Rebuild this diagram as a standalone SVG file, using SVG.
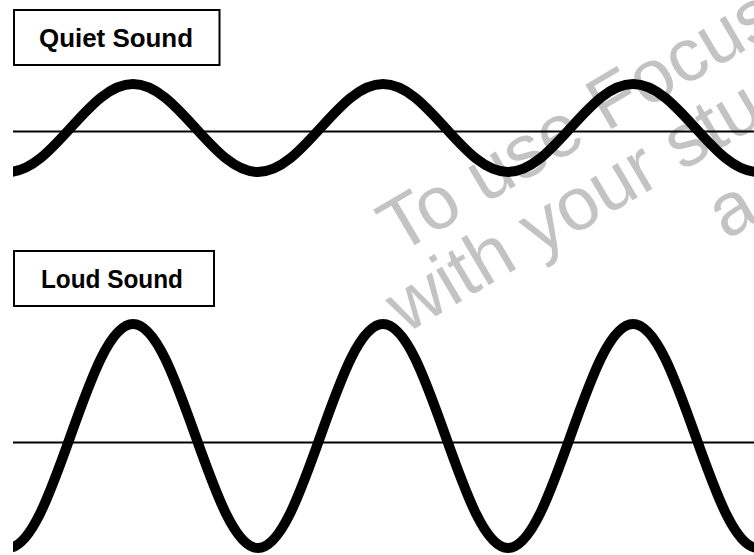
<svg xmlns="http://www.w3.org/2000/svg" width="754" height="555" viewBox="0 0 754 555">
  <style>
    .box { fill: #ffffff; stroke: #000000; stroke-width: 2; }
    .label { font-family: "Liberation Sans", Arial, sans-serif; font-weight: bold; font-size: 25.5px; fill: #000000; }
    .axis { stroke: #000000; stroke-width: 2.2; fill: none; }
    .wave { stroke: #000000; stroke-width: 10; fill: none; stroke-linecap: butt; }
    .wm { font-family: "Liberation Sans", Arial, sans-serif; font-size: 75px; fill: #c3c3c3; }
  </style>
  <defs>
    <clipPath id="clipArea">
      <rect x="13" y="0" width="741" height="555"/>
    </clipPath>
  </defs>
  <rect x="0" y="0" width="754" height="555" fill="#ffffff"/>

  <g id="watermark" transform="translate(398,255) rotate(-30.5)">
    <text class="wm" x="0" y="0">To use Focus</text>
    <text class="wm" x="-34" y="72">with your stu</text>
    <text class="wm" x="290" y="154">a</text>
  </g>

  <g id="axes">
    <line class="axis" x1="13" y1="131.5" x2="754" y2="131.5"/>
    <line class="axis" x1="13" y1="442.5" x2="754" y2="442.5"/>
  </g>

  <g id="quiet-wave" clip-path="url(#clipArea)">
    <path class="wave" d="M8,172 C30.62,172 50.12,150.54 70.5,128 S110.38,84 133,84 S175.12,105.46 195.5,128 S235.38,172 258,172 S300.12,150.54 320.5,128 S360.38,84 383,84 S425.12,105.46 445.5,128 S485.38,172 508,172 S550.12,150.54 570.5,128 S610.38,84 633,84 S675.12,105.46 695.5,128 S735.38,172 758,172"/>
  </g>

  <g id="loud-wave" clip-path="url(#clipArea)">
    <path class="wave" d="M8,548 C30.62,548 50.12,493.38 70.5,436 S110.38,324 133,324 S175.12,378.62 195.5,436 S235.38,548 258,548 S300.12,493.38 320.5,436 S360.38,324 383,324 S425.12,378.62 445.5,436 S485.38,548 508,548 S550.12,493.38 570.5,436 S610.38,324 633,324 S675.12,378.62 695.5,436 S735.38,548 758,548"/>
  </g>

  <g id="quiet-label">
    <rect class="box" x="14" y="10" width="205.5" height="55"/>
    <text class="label" x="39" y="47" textLength="154" lengthAdjust="spacingAndGlyphs">Quiet Sound</text>
  </g>

  <g id="loud-label">
    <rect class="box" x="14" y="251" width="200" height="55"/>
    <text class="label" x="41" y="288" textLength="142" lengthAdjust="spacingAndGlyphs">Loud Sound</text>
  </g>
</svg>
